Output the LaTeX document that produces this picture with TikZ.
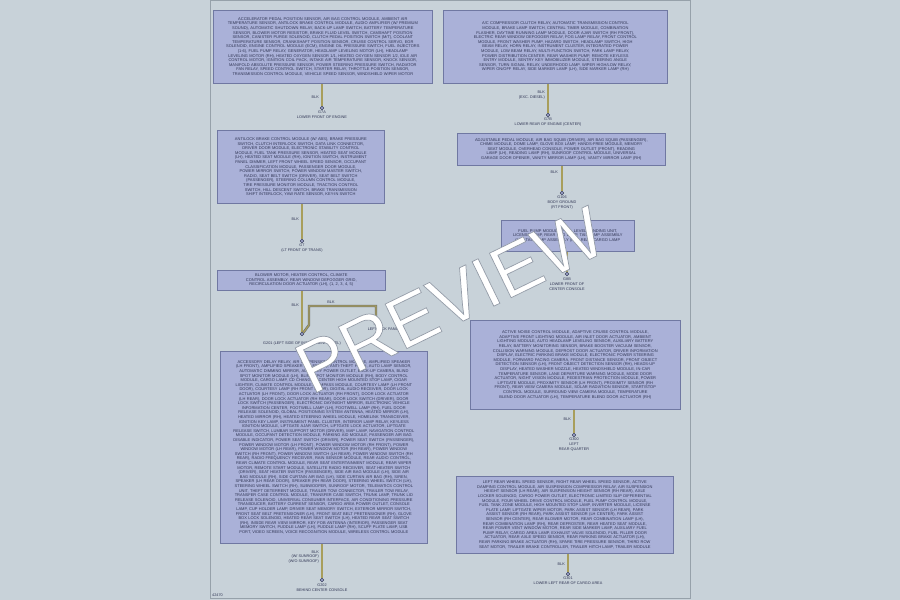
\documentclass[tikz,border=0pt]{standalone}
\usepackage{fontspec}
\setmainfont{Liberation Sans}
\usetikzlibrary{positioning}
\hyphenpenalty=10000
\exhyphenpenalty=10000
\definecolor{pagebg}{RGB}{200,210,217}
\definecolor{framecol}{RGB}{150,161,170}
\definecolor{boxfill}{RGB}{170,177,216}
\definecolor{boxline}{RGB}{112,120,162}
\definecolor{txtcol}{RGB}{48,53,84}
\definecolor{wirecol}{RGB}{168,158,92}
\definecolor{wireedge}{RGB}{110,112,110}
\newcommand{\boxfont}{\fontsize{4}{4.6}\selectfont}
\newcommand{\lblfont}{\fontsize{3.8}{4.9}\selectfont}
\newcommand{\outlined}[1]{\special{pdf:literal direct 2 Tr 0.7 w 0.58 0.61 0.66 RG}#1\special{pdf:literal direct 0 Tr}}
\tikzset{gbox/.style = {draw=boxline, fill=boxfill, line width=0.7pt, anchor=north west,
                        inner sep=0pt, align=center, text=txtcol, font=\boxfont},
         wire/.style = {draw=wireedge, line width=2.4pt,
                        postaction={draw=wirecol, line width=1.2pt}},
         gnd/.style = {circle, draw=txtcol, fill=boxfill, line width=0.5pt,
                       minimum size=3.5pt, inner sep=0pt},
         wlabel/.style = {anchor=east, align=right, inner sep=1pt, text=txtcol, font=\lblfont},
         gtext/.style = {anchor=north, align=center, inner sep=0pt, text=txtcol, font=\lblfont}}

\begin{document}
\begin{tikzpicture}[x=1pt, y=-1pt]
  \useasboundingbox (0,0) rectangle (900,600);
  \fill[pagebg] (0,0) rectangle (900,600);
  \draw[framecol, line width=1pt] (210,0.5) rectangle (690,598);

  % left column
  \node[gbox, minimum width=219pt, minimum height=73pt, text width=194pt] (boxA) at (213,10)
    {ACCELERATOR PEDAL POSITION SENSOR, AIR BAG CONTROL MODULE, AMBIENT AIR TEMPERATURE SENSOR,
     ANTILOCK BRAKE CONTROL MODULE, AUDIO AMPLIFIER (W/ PREMIUM SOUND), AUTOMATIC SHUTDOWN RELAY,
     BACK-UP LAMP SWITCH, BATTERY TEMPERATURE SENSOR, BLOWER MOTOR RESISTOR, BRAKE FLUID LEVEL SWITCH,
     CAMSHAFT POSITION SENSOR, CANISTER PURGE SOLENOID,
     CLUTCH PEDAL POSITION SWITCH (M/T), COOLANT TEMPERATURE SENSOR, CRANKSHAFT POSITION SENSOR,
     CRUISE CONTROL SERVO, EGR SOLENOID, ENGINE CONTROL MODULE (ECM), ENGINE OIL PRESSURE SWITCH,
     FUEL INJECTORS (1-6), FUEL PUMP RELAY, GENERATOR,
     HEADLAMP LEVELING MOTOR (LH), HEADLAMP LEVELING MOTOR (RH), HEATED OXYGEN SENSOR 1/1,
     HEATED OXYGEN SENSOR 1/2, IDLE AIR CONTROL MOTOR, IGNITION COIL PACK, INTAKE AIR TEMPERATURE SENSOR,
     KNOCK SENSOR, MANIFOLD ABSOLUTE PRESSURE SENSOR, POWER STEERING PRESSURE SWITCH, RADIATOR FAN RELAY,
     SPEED CONTROL SWITCH, STARTER RELAY, THROTTLE POSITION SENSOR, TRANSMISSION CONTROL MODULE,
     VEHICLE SPEED SENSOR, WINDSHIELD WIPER MOTOR};
  \node[gnd] (gA) at (322,108) {};
  \draw[wire] (boxA.south -| gA) -- (gA);
  \node[wlabel] (wA) at (320,97) {BLK};
  \node[gtext] (gAtxt) at (322,111) {G7A\\LOWER FRONT OF ENGINE};

  \node[gbox, minimum width=167pt, minimum height=73pt, text width=132pt] (boxC) at (217,130)
    {ANTILOCK BRAKE CONTROL MODULE (W/ ABS), BRAKE PRESSURE SWITCH, CLUTCH INTERLOCK SWITCH,
     DATA LINK CONNECTOR, DRIVER DOOR MODULE, ELECTRONIC STABILITY CONTROL MODULE,
     FUEL TANK PRESSURE SENSOR, HEATED SEAT MODULE (LH), HEATED SEAT MODULE (RH), IGNITION SWITCH,
     INSTRUMENT PANEL DIMMER, LEFT FRONT WHEEL SPEED SENSOR, OCCUPANT CLASSIFICATION MODULE,
     PASSENGER DOOR MODULE, POWER MIRROR SWITCH, POWER WINDOW MASTER SWITCH, RADIO,
     SEAT BELT SWITCH (DRIVER), SEAT BELT SWITCH (PASSENGER), STEERING COLUMN CONTROL MODULE,
     TIRE PRESSURE MONITOR MODULE, TRACTION CONTROL SWITCH, HILL DESCENT SWITCH,
     BRAKE TRANSMISSION SHIFT INTERLOCK, YAW RATE SENSOR, KEY-IN SWITCH};
  \node[gnd] (gC) at (302,241) {};
  \draw[wire] (boxC.south -| gC) -- (gC);
  \node[wlabel] (wC) at (300,219) {BLK};
  \node[gtext] (gCtxt) at (302,244) {G7\\(LT FRONT OF TRANS)};

  \node[gbox, minimum width=168pt, minimum height=20pt, text width=125pt] (boxF) at (217,270)
    {BLOWER MOTOR, HEATER CONTROL, CLIMATE CONTROL ASSEMBLY, REAR WINDOW DEFOGGER GRID,
     RECIRCULATION DOOR ACTUATOR (LH), (1, 2, 3, 4, 5)};
  \node[gnd] (gF) at (302,334) {};
  \draw[wire] (boxF.south -| gF) -- (gF);
  \coordinate (sF) at (376,321);
  \draw[wire] (gF.north east) -- (309,325) |- (sF |- 0,306) -- (sF);
  \node[wlabel] (wF) at (300,305) {BLK};
  \node[wlabel, anchor=south] (wF2) at (331,305) {BLK};
  \node[gtext] (sFtxt) at (378,323) {S121\\\hspace*{12pt}LEFT KICK PANEL};
  \node[gtext] (gFtxt) at (302,342) {G201 (LEFT SIDE OF INSTRUMENT PANEL)};

  \node[gbox, minimum width=207pt, minimum height=192pt, text width=182pt] (boxG) at (220,351)
    {ACCESSORY DELAY RELAY, AIR SUSPENSION CONTROL MODULE, AMPLIFIED SPEAKER (LH FRONT),
     AMPLIFIED SPEAKER (RH FRONT), ANTI-THEFT HORN, AUTO LAMP SENSOR, AUTOMATIC DIMMING MIRROR,
     AUXILIARY POWER OUTLET, BACK-UP CAMERA, BLIND SPOT MONITOR MODULE (LH),
     BLIND SPOT MONITOR MODULE (RH), BODY CONTROL MODULE, CARGO LAMP, CD CHANGER,
     CENTER HIGH MOUNTED STOP LAMP, CIGAR LIGHTER, CLIMATE CONTROL MODULE, COMPASS MODULE,
     COURTESY LAMP (LH FRONT DOOR), COURTESY LAMP (RH FRONT DOOR), DIGITAL AUDIO RECEIVER,
     DOOR LOCK ACTUATOR (LH FRONT), DOOR LOCK ACTUATOR (RH FRONT), DOOR LOCK ACTUATOR (LH REAR),
     DOOR LOCK ACTUATOR (RH REAR), DOOR LOCK SWITCH (DRIVER), DOOR LOCK SWITCH (PASSENGER),
     ELECTRONIC DAY/NIGHT MIRROR, ELECTRONIC VEHICLE INFORMATION CENTER, FOOTWELL LAMP (LH),
     FOOTWELL LAMP (RH), FUEL DOOR RELEASE SOLENOID, GLOBAL POSITIONING SYSTEM ANTENNA,
     HEATED MIRROR (LH), HEATED MIRROR (RH), HEATED STEERING WHEEL MODULE, HOMELINK TRANSCEIVER,
     IGNITION KEY LAMP, INSTRUMENT PANEL CLUSTER, INTERIOR LAMP RELAY, KEYLESS IGNITION MODULE,
     LIFTGATE AJAR SWITCH, LIFTGATE LOCK ACTUATOR, LIFTGATE RELEASE SWITCH,
     LUMBAR SUPPORT MOTOR (DRIVER), MAP LAMP, NAVIGATION CONTROL MODULE, OCCUPANT DETECTION MODULE,
     PARKING AID MODULE, PASSENGER AIR BAG DISABLE INDICATOR, POWER SEAT SWITCH (DRIVER),
     POWER SEAT SWITCH (PASSENGER), POWER WINDOW MOTOR (LH FRONT), POWER WINDOW MOTOR (RH FRONT),
     POWER WINDOW MOTOR (LH REAR), POWER WINDOW MOTOR (RH REAR), POWER WINDOW SWITCH (RH FRONT),
     POWER WINDOW SWITCH (LH REAR), POWER WINDOW SWITCH (RH REAR), RADIO FREQUENCY RECEIVER,
     RAIN SENSOR MODULE, REAR AUDIO CONTROL, REAR CLIMATE CONTROL MODULE,
     REAR SEAT ENTERTAINMENT MODULE, REAR WIPER MOTOR, REMOTE START MODULE, SATELLITE RADIO RECEIVER,
     SEAT HEATER SWITCH (DRIVER), SEAT HEATER SWITCH (PASSENGER), SIDE AIR BAG MODULE (LH),
     SIDE AIR BAG MODULE (RH), SIDE CURTAIN AIR BAG (LH), SIDE CURTAIN AIR BAG (RH), SIREN,
     SPEAKER (LH REAR DOOR), SPEAKER (RH REAR DOOR), STEERING WHEEL SWITCH (LH),
     STEERING WHEEL SWITCH (RH), SUBWOOFER, SUNROOF MOTOR, TELEMATICS CONTROL UNIT,
     THEFT DETERRENT MODULE, TRAILER TOW CONNECTOR, TRAILER TOW RELAY, TRANSFER CASE CONTROL MODULE,
     TRANSFER CASE SWITCH, TRUNK LAMP, TRUNK LID RELEASE SOLENOID, UNIVERSAL CONSUMER INTERFACE,
     AIR CONDITIONING PRESSURE TRANSDUCER, BATTERY CURRENT SENSOR, CARGO AREA POWER OUTLET,
     CONSOLE LAMP, CUP HOLDER LAMP, DRIVER SEAT MEMORY SWITCH, EXTERIOR MIRROR SWITCH,
     FRONT SEAT BELT PRETENSIONER (LH), FRONT SEAT BELT PRETENSIONER (RH), GLOVE BOX LOCK SOLENOID,
     HEATED REAR SEAT SWITCH (LH), HEATED REAR SEAT SWITCH (RH), INSIDE REAR VIEW MIRROR,
     KEY FOB ANTENNA (INTERIOR), PASSENGER SEAT MEMORY SWITCH, PUDDLE LAMP (LH), PUDDLE LAMP (RH),
     SCUFF PLATE LAMP, USB PORT, VIDEO SCREEN, VOICE RECOGNITION MODULE, WIRELESS CONTROL MODULE};
  \node[gnd] (gG) at (322,580) {};
  \draw[wire] (boxG.south -| gG) -- (gG);
  \node[wlabel] (wG) at (320,557) {BLK\\(W/ SUNROOF)\\(W/O SUNROOF)};
  \node[gtext] (gGtxt) at (322,584) {G202\\BEHIND CENTER CONSOLE};

  % right column
  \node[gbox, minimum width=224pt, minimum height=73pt, text width=168pt] (boxB) at (443,10)
    {A/C COMPRESSOR CLUTCH RELAY, AUTOMATIC TRANSMISSION CONTROL MODULE, BRAKE LAMP SWITCH,
     CENTRAL TIMER MODULE, COMBINATION FLASHER, DAYTIME RUNNING LAMP MODULE,
     DOOR AJAR SWITCH (RH FRONT), ELECTRIC REAR WINDOW DEFOGGER RELAY, FOG LAMP RELAY,
     FRONT CONTROL MODULE, FRONT WASHER PUMP, HAZARD SWITCH, HEADLAMP SWITCH, HIGH BEAM RELAY,
     HORN RELAY, INSTRUMENT CLUSTER, INTEGRATED POWER MODULE, LOW BEAM RELAY, MULTI-FUNCTION SWITCH,
     PARK LAMP RELAY, POWER DISTRIBUTION CENTER, REAR WASHER PUMP, REMOTE KEYLESS ENTRY MODULE,
     SENTRY KEY IMMOBILIZER MODULE, STEERING ANGLE SENSOR, TURN SIGNAL RELAY, UNDERHOOD LAMP,
     WIPER HIGH/LOW RELAY, WIPER ON/OFF RELAY, SIDE MARKER LAMP (LH), SIDE MARKER LAMP (RH)};
  \node[gnd] (gB) at (548,115) {};
  \draw[wire] (boxB.south -| gB) -- (gB);
  \node[wlabel] (wB) at (546,95) {BLK\\(EXC. DIESEL)};
  \node[gtext] (gBtxt) at (548,118) {G7B\\LOWER REAR OF ENGINE (CENTER)};

  \node[gbox, minimum width=208pt, minimum height=32pt, text width=175pt] (boxD) at (457,133)
    {ADJUSTABLE PEDAL MODULE, AIR BAG SQUIB (DRIVER), AIR BAG SQUIB (PASSENGER), CHIME MODULE,
     DOME LAMP, GLOVE BOX LAMP, HANDS-FREE MODULE, MEMORY SEAT MODULE, OVERHEAD CONSOLE,
     POWER OUTLET (FRONT), READING LAMP (LH), READING LAMP (RH), SUNROOF CONTROL MODULE,
     UNIVERSAL GARAGE DOOR OPENER, VANITY MIRROR LAMP (LH), VANITY MIRROR LAMP (RH)};
  \node[gnd] (gD) at (562,193) {};
  \draw[wire] (boxD.south -| gD) -- (gD);
  \node[wlabel] (wD) at (559,172) {BLK};
  \node[gtext] (gDtxt) at (562,196) {G106\\BODY GROUND\\(RT FRONT)};

  \node[gbox, minimum width=133pt, minimum height=31pt, text width=112pt] (boxE) at (501,220)
    {FUEL PUMP MODULE, FUEL LEVEL SENDING UNIT, LICENSE LAMP, REAR FOG LAMP,
     TAIL LAMP ASSEMBLY (LH), TAIL LAMP ASSEMBLY (RH), REAR CARGO LAMP};
  \node[gnd] (gE) at (567,274) {};
  \draw[wire] (boxE.south -| gE) -- (gE);
  \node[gtext] (gEtxt) at (567,278) {G8B\\LOWER FRONT OF\\CENTER CONSOLE};

  \node[gbox, minimum width=210pt, minimum height=89pt, text width=168pt] (boxH) at (470,320)
    {ACTIVE NOISE CONTROL MODULE, ADAPTIVE CRUISE CONTROL MODULE, ADAPTIVE FRONT LIGHTING MODULE,
     AIR INLET DOOR ACTUATOR, AMBIENT LIGHTING MODULE, AUTO HEADLAMP LEVELING SENSOR,
     AUXILIARY BATTERY RELAY, BATTERY MONITORING SENSOR, BRAKE BOOSTER VACUUM SENSOR,
     COLLISION WARNING MODULE, DEFROST DOOR ACTUATOR, DRIVER INFORMATION DISPLAY,
     ELECTRIC PARKING BRAKE MODULE, ELECTRONIC POWER STEERING MODULE, FORWARD FACING CAMERA,
     FRONT DISTANCE SENSOR, FRONT OBJECT DETECTION SENSOR (LH), FRONT OBJECT DETECTION SENSOR (RH),
     HEADS-UP DISPLAY, HEATED WASHER NOZZLE, HEATED WINDSHIELD MODULE, IN-CAR TEMPERATURE SENSOR,
     LANE DEPARTURE WARNING MODULE, MODE DOOR ACTUATOR, NIGHT VISION MODULE,
     PEDESTRIAN PROTECTION MODULE, POWER LIFTGATE MODULE, PROXIMITY SENSOR (LH FRONT),
     PROXIMITY SENSOR (RH FRONT), REAR VIEW CAMERA MODULE, SOLAR RADIATION SENSOR,
     START/STOP CONTROL MODULE, SURROUND VIEW CAMERA MODULE, TEMPERATURE BLEND DOOR ACTUATOR (LH),
     TEMPERATURE BLEND DOOR ACTUATOR (RH)};
  \node[gnd] (gH) at (574,435) {};
  \draw[wire] (boxH.south -| gH) -- (gH);
  \node[wlabel] (wH) at (572,419) {BLK};
  \node[gtext] (gHtxt) at (574,438) {G300\\LEFT\\REAR QUARTER};

  \node[gbox, minimum width=217pt, minimum height=77pt, text width=180pt] (boxI) at (456,476)
    {LEFT REAR WHEEL SPEED SENSOR, RIGHT REAR WHEEL SPEED SENSOR, ACTIVE DAMPING CONTROL MODULE,
     AIR SUSPENSION COMPRESSOR RELAY, AIR SUSPENSION HEIGHT SENSOR (LH REAR),
     AIR SUSPENSION HEIGHT SENSOR (RH REAR), AXLE LOCKER SOLENOID, CARGO POWER OUTLET,
     ELECTRONIC LIMITED SLIP DIFFERENTIAL MODULE, FOUR WHEEL DRIVE CONTROL MODULE,
     FUEL PUMP CONTROL MODULE, FUEL TANK ZONE MODULE, HIGH MOUNTED STOP LAMP, INVERTER MODULE,
     LICENSE PLATE LAMP, LIFTGATE WIPER MOTOR, PARK ASSIST SENSOR (LH REAR),
     PARK ASSIST SENSOR (RH REAR), PARK ASSIST SENSOR (LH CENTER), PARK ASSIST SENSOR (RH CENTER),
     REAR BLOWER MOTOR, REAR COMBINATION LAMP (LH), REAR COMBINATION LAMP (RH), REAR DEFROSTER,
     REAR HEATED SEAT MODULE, REAR POWER VENT WINDOW MOTOR, REAR SIDE MARKER LAMP,
     AUXILIARY FUEL PUMP RELAY, CARGO AREA LAMP, EXHAUST VALVE SOLENOID, FUEL FILLER DOOR ACTUATOR,
     REAR AXLE SPEED SENSOR, REAR PARKING BRAKE ACTUATOR (LH), REAR PARKING BRAKE ACTUATOR (RH),
     SPARE TIRE PRESSURE SENSOR, THIRD ROW SEAT MOTOR, TRAILER BRAKE CONTROLLER, TRAILER HITCH LAMP,
     TRAILER MODULE};
  \node[gnd] (gI) at (568,574) {};
  \draw[wire] (boxI.south -| gI) -- (gI);
  \node[wlabel] (wI) at (566,564) {BLK};
  \node[gtext] (gItxt) at (568,577) {G301\\LOWER LEFT REAR OF CARGO AREA};

  \node[gtext, anchor=west] (pageid) at (212,595) {42470};

  % watermark
  \node[rotate=26, text=white, font=\fontsize{72}{72}\selectfont, inner sep=0pt]
    (wmark) at (450,300) {\outlined{PREVIEW}};
\end{tikzpicture}
\end{document}
